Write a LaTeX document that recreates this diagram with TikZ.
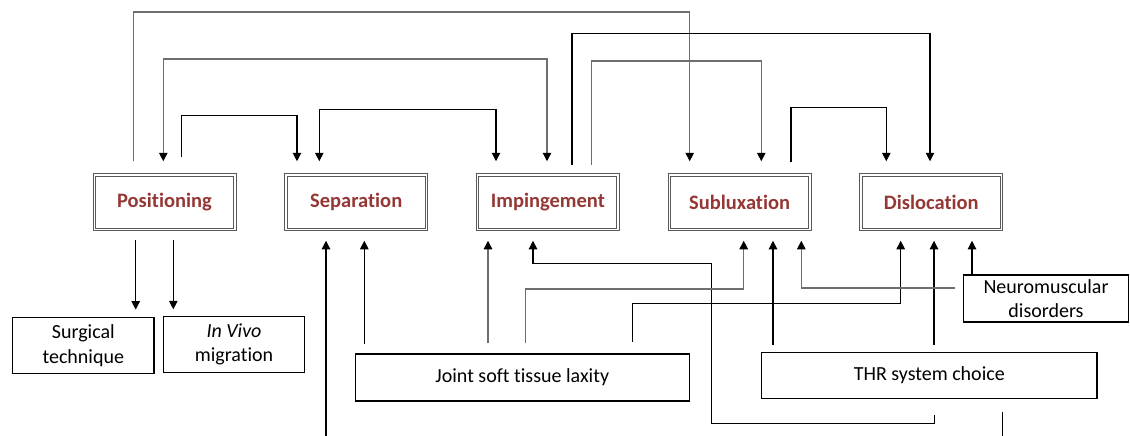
\documentclass[tikz,border=0pt]{standalone}
\usepackage{fontspec}
\setmainfont{Carlito}[Ligatures=NoCommon]
\usetikzlibrary{arrows.meta,calc}
\definecolor{lbl}{RGB}{149,55,53}
\definecolor{ln}{RGB}{110,110,110}
\begin{document}
\begin{tikzpicture}[x=1pt,y=-1pt,
  font=\fontsize{20}{24.5}\selectfont,
  main/.style={draw=black!65, double, double distance=1.5pt, line width=1pt,
    minimum width=140.5pt, minimum height=54.5pt, inner sep=0pt, text=lbl,
    font=\fontsize{20.5}{24.5}\selectfont\bfseries},
  box/.style={draw=black, line width=1.3pt, inner sep=0pt, align=center},
  con/.style={line width=1.1pt, draw=black},
  gcon/.style={line width=1.2pt, draw=ln},
  tip/.style={-{Triangle[width=8.5pt,length=8.5pt,color=black]}},
  tips/.style={{Triangle[width=8.5pt,length=8.5pt,color=black]}-{Triangle[width=8.5pt,length=8.5pt,color=black]}},
]
\useasboundingbox (0,0) rectangle (1130,436);

% main nodes
\node[main] (pos) at (164.5,202) {Positioning};
\node[main] (sep) at (356.2,202) {Separation};
\node[main] (imp) at (547.9,202) {Impingement};
\node[main] (sub) at (739.6,202) {Subluxation};
\node[main] (dis) at (931.3,202) {Dislocation};

% secondary nodes
\node[box, minimum width=141.5pt, minimum height=56.5pt] (surg) at (83.3,345.5) {Surgical\\technique};
\node[box, minimum width=141.5pt, minimum height=56.5pt] (vivo) at (234,344.5) {\textit{In Vivo}\\migration};
\node[box, minimum width=333.8pt, minimum height=47.2pt] (jstl) at (522.3,377.5) {Joint soft tissue laxity};
\node[box, minimum width=335.3pt, minimum height=46.4pt] (thr) at (929.3,375.5) {THR system choice};
\node[box, minimum width=164.8pt, minimum height=47.2pt] (nm) at (1046,298.5) {Neuromuscular\\disorders};

% levels
\coordinate (h12) at (0,12);
\coordinate (h33) at (0,33.3);
\coordinate (h59) at (0,59);
\coordinate (h116) at (0,115.7);
\coordinate (h109) at (0,109.3);
\coordinate (h61) at (0,61);
\coordinate (h107) at (0,107.5);
\coordinate (h289) at (0,289);
\coordinate (h303) at (0,303.3);

% top connectors
\coordinate (l1s) at ($(pos.north)+(-31.2,-13)$);
\coordinate (l1e) at ($(sub.north)+(-49.9,-13)$);
\draw[gcon,tip] (l1s) -- (l1s |- h12) -| (l1e);

\coordinate (l2s) at ($(imp.north)+(24.1,-9.5)$);
\coordinate (l2e) at ($(dis.north)+(-1.3,-13)$);
\draw[con,tip] (l2s) -- (l2s |- h33) -| (l2e);

\coordinate (l3s) at ($(pos.north)+(-1.2,-13)$);
\coordinate (l3e) at ($(imp.north)+(-0.9,-13)$);
\draw[gcon,tips] (l3s) -- (l3s |- h59) -| (l3e);

\coordinate (l4s) at ($(pos.north)+(16.8,-17.5)$);
\coordinate (l4e) at ($(sep.north)+(-59.2,-13)$);
\draw[con,tip] (l4s) -- (l4s |- h116) -| (l4e);

\coordinate (l5s) at ($(sep.north)+(-36.9,-13)$);
\coordinate (l5e) at ($(imp.north)+(-51.9,-13)$);
\draw[con,tips] (l5s) -- (l5s |- h109) -| (l5e);

\coordinate (l6s) at ($(imp.north)+(43.4,-9.5)$);
\coordinate (l6e) at ($(sub.north)+(21.7,-13)$);
\draw[gcon,tip] (l6s) -- (l6s |- h61) -| (l6e);

\coordinate (l7s) at ($(sub.north)+(51.4,-12)$);
\coordinate (l7e) at ($(dis.north)+(-45,-13)$);
\draw[con,tip] (l7s) -- (l7s |- h107) -| (l7e);

% bottom connectors
\coordinate (b1s) at ($(pos.south)+(-28.8,10.5)$);
\coordinate (b1e) at ($(surg.north)+(52.4,-7)$);
\draw[con,tip] (b1s) -- (b1e);
\coordinate (b2s) at ($(pos.south)+(8.8,10.5)$);
\coordinate (b2e) at ($(vivo.north)+(-60.7,-6.3)$);
\draw[con,tip] (b2s) -- (b2e);

\coordinate (s1s) at (326,436);
\coordinate (s1e) at ($(sep.south)+(-30.2,11)$);
\draw[con,tip] (s1s) -- (s1e);

\coordinate (s2s) at ($(jstl.north)+(-158,-9)$);
\coordinate (s2e) at ($(sep.south)+(8.1,11)$);
\draw[con,tip] (s2s) -- (s2e);

\coordinate (i1s) at ($(jstl.north)+(-34.3,-10)$);
\coordinate (i1e) at ($(imp.south)+(-59.9,11)$);
\draw[gcon,tip] (i1s) -- (i1e);

\coordinate (i2s) at ($(thr.south)+(5.2,16)$);
\coordinate (c711) at (711.3,423.3);
\coordinate (c711b) at (711.3,263.3);
\coordinate (i2e) at ($(imp.south)+(-14.9,11)$);
\draw[con,tip] (i2s) |- (c711) -- (c711b) -| (i2e);

\coordinate (js) at ($(jstl.north)+(3,-10)$);
\coordinate (je) at ($(sub.south)+(4.1,11)$);
\draw[gcon,tip] (js) -- (js |- h289) -| (je);

\coordinate (jds) at ($(jstl.north)+(110.4,-11.5)$);
\coordinate (jde) at ($(dis.south)+(-30.6,11)$);
\draw[con,tip] (jds) -- (jds |- h303) -| (jde);

\coordinate (ts) at ($(thr.north)+(-156.3,-7)$);
\coordinate (te) at ($(sub.south)+(33.4,11)$);
\draw[con,tip] (ts) -- (te);

\coordinate (td) at ($(thr.north)+(4.7,-7)$);
\coordinate (tde) at ($(dis.south)+(2.7,11)$);
\draw[con,tip] (td) -- (tde);

\coordinate (ns) at ($(nm.west)+(-8.3,-10.5)$);
\coordinate (ne) at ($(sub.south)+(61.7,11)$);
\draw[gcon,tip] (ns) -| (ne);

\coordinate (nd) at ($(nm.north)+(-74,0)$);
\coordinate (nde) at ($(dis.south)+(40.7,11)$);
\draw[con,tip] (nd) -- (nde);

% stub
\coordinate (st1) at (1002.5,411.7);
\coordinate (st2) at (1002.5,436);
\draw[con] (st1) -- (st2);
\end{tikzpicture}
\end{document}
